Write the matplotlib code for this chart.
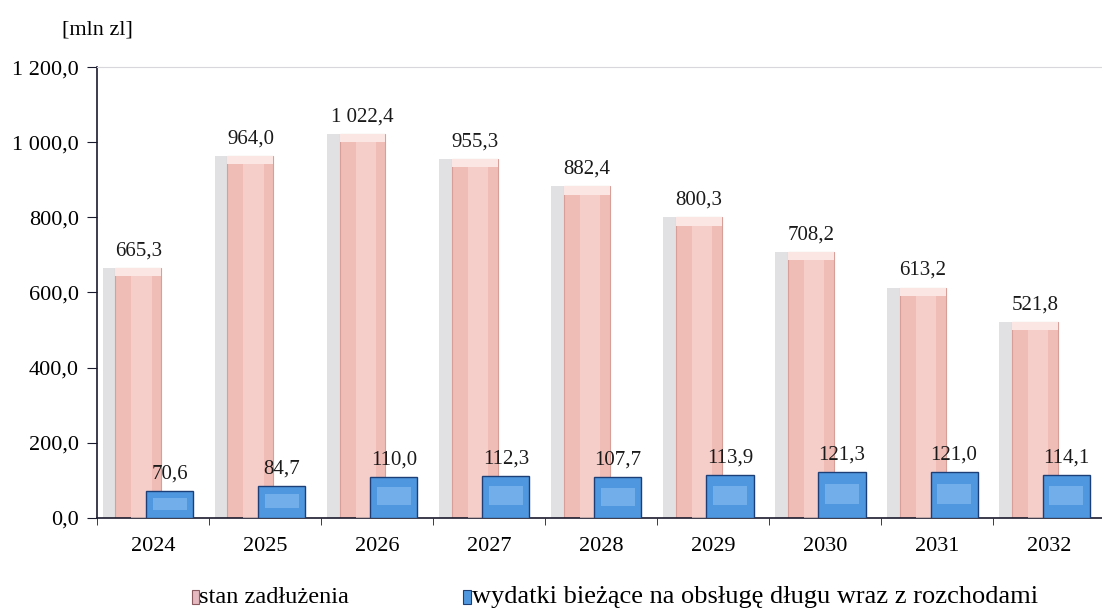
import numpy as np
import matplotlib.pyplot as plt
from matplotlib.patches import Rectangle

years = ['2024', '2025', '2026', '2027', '2028', '2029', '2030', '2031', '2032']
debt = [665.3, 964.0, 1022.4, 955.3, 882.4, 800.3, 708.2, 613.2, 521.8]
service = [70.6, 84.7, 110.0, 112.3, 107.7, 113.9, 121.3, 121.0, 114.1]
debt_labels = ['665,3', '964,0', '1 022,4', '955,3', '882,4', '800,3', '708,2', '613,2', '521,8']
service_labels = ['70,6', '84,7', '110,0', '112,3', '107,7', '113,9', '121,3', '121,0', '114,1']
yticks = [0, 200, 400, 600, 800, 1000, 1200]
ytick_labels = ['0,0', '200,0', '400,0', '600,0', '800,0', '1 000,0', '1 200,0']

plt.rcParams['font.family'] = ['Liberation Serif', 'DejaVu Serif']

fig = plt.figure(figsize=(11.02, 6.10), dpi=100)
ax = fig.add_axes([0.088, 0.151, 0.915, 0.739])

x = np.arange(len(years))
pink_off, blue_off = -0.13, 0.15
w = 0.41

# grey shadow behind the bars
ax.bar(x + pink_off - 0.11, debt, width=w, color='#c9c9cf', alpha=0.55, zorder=1)
ax.bar(x + blue_off - 0.08, service, width=w, color='#b9bcc4', alpha=0.5, zorder=1)

ax.bar(x + pink_off, debt, width=w, color='#efbcb6', edgecolor='#d89f99', linewidth=0.8, zorder=2)
# lighter centre strip for the rounded look
ax.bar(x + pink_off + 0.03, debt, width=w * 0.45, color='#f8d7d2', alpha=0.7, zorder=3)
# bevelled top
for xi, d in zip(x, debt):
    ax.add_patch(Rectangle((xi + pink_off - w / 2, d - 22), w, 22, facecolor='#fbe6e3',
                           edgecolor='none', zorder=4))

ax.bar(x + blue_off, service, width=0.42, color='#4f98df', edgecolor='#1d3f78', linewidth=1.0, zorder=5)
ax.bar(x + blue_off, [s * 0.45 for s in service], bottom=[s * 0.3 for s in service], width=0.3,
       color='#7bb6ee', alpha=0.8, zorder=6)

for xi, d, lab in zip(x, debt, debt_labels):
    ax.text(xi + pink_off, d + 20, lab, ha='center', va='bottom', fontsize=15, color='#1a1a1a', zorder=7)
for xi, s, lab in zip(x, service, service_labels):
    ax.text(xi + blue_off, s + 20, lab, ha='center', va='bottom', fontsize=15, color='#1a1a1a', zorder=7)

ax.set_xlim(-0.5, 8.48)
ax.set_ylim(0, 1200)
ax.set_yticks(yticks)
ax.set_yticklabels(ytick_labels, fontsize=16)
ax.set_xticks(x)
ax.set_xticklabels(years, fontsize=16)
ax.set_xticks(np.arange(-0.5, 8.6, 1), minor=True)
ax.tick_params(axis='x', which='major', length=0, pad=14)
ax.tick_params(axis='x', which='minor', length=5, direction='out', color='#1a1a2e')
ax.tick_params(axis='y', length=7, direction='out', color='#1a1a2e', pad=6)

ax.spines['right'].set_visible(False)
ax.spines['top'].set_color('#d8d8dc')
ax.spines['left'].set_color('#1a1a2e')
ax.spines['bottom'].set_color('#1a1a2e')
ax.spines['left'].set_linewidth(1.2)
ax.spines['bottom'].set_linewidth(1.2)

fig.text(0.056, 0.95, '[mln zl]', fontsize=16, ha='left', va='center')

# legend
fig.patches.append(Rectangle((0.174, 0.01), 0.0065, 0.023, transform=fig.transFigure,
                             facecolor='#e6b8c0', edgecolor='#8a5a60', linewidth=0.8))
fig.text(0.1805, 0.021, 'stan zadłużenia', fontsize=17.5, ha='left', va='center')
fig.patches.append(Rectangle((0.4205, 0.01), 0.0065, 0.023, transform=fig.transFigure,
                             facecolor='#4f98df', edgecolor='#1d3f78', linewidth=0.8))
fig.text(0.4285, 0.021, 'wydatki bieżące na obsługę długu wraz z rozchodami', fontsize=19,
         ha='left', va='center')

fig.savefig('out.png', dpi=100)
